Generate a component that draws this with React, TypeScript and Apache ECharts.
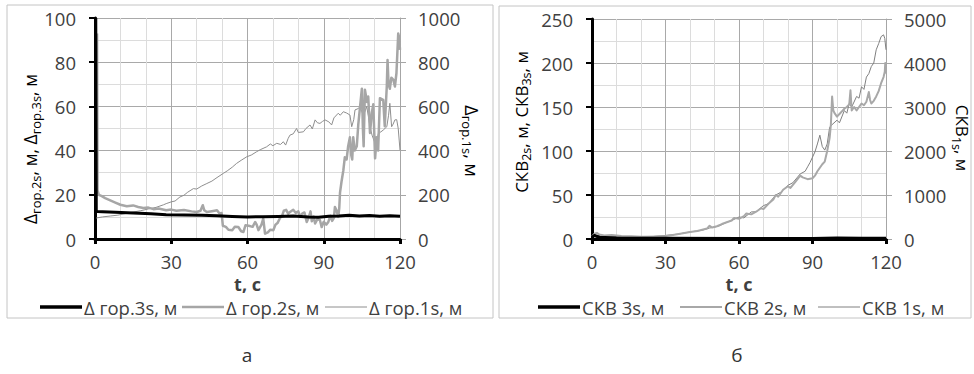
import React, { useEffect, useRef } from "react";
import * as echarts from "echarts";

// ---------- Chart а : Δ гор ----------
const a3T = [0.3, 0.5, 1, 3, 8, 15, 22, 28, 35, 42, 48, 54, 60, 66, 72, 78, 84, 88, 92, 96, 100, 104, 108, 112, 116, 120];
const a3V = [100, 12.5, 12.4, 12.3, 12.1, 11.8, 11.4, 11.0, 10.9, 10.7, 10.5, 10.2, 10.0, 10.1, 10.2, 10.4, 9.9, 9.8, 10.3, 10.4, 10.8, 10.4, 10.6, 10.3, 10.5, 10.3];

const a2T = [0.8, 1.0, 1.5, 2.5, 4, 6, 8, 10, 12.5, 15, 17, 19, 21, 23, 25, 28, 30, 32, 35, 38, 40, 41.5, 42.4, 43, 44, 46, 48, 49, 49.8, 50.3, 51.5, 52.5, 54, 55, 56.4, 57.5, 58.4, 59.2, 60.5, 62, 63, 63.6, 64.3, 65.5, 66.2, 66.9, 68, 69, 70.2, 71, 71.8, 72.8, 73.6, 74.3, 75.2, 76, 77, 78, 79, 80, 80.7, 81.5, 82.4, 83.3, 84, 84.8, 85.3, 86, 86.6, 87.5, 88.5, 89.2, 90, 91, 91.8, 92.6, 93.3, 94, 94.4, 95, 95.7, 96.1, 96.4, 97, 97.7, 98.3, 99, 99.6, 100.3, 100.8, 101.2, 101.6, 102.2, 103, 103.6, 104.3, 105, 105.4, 105.7, 106.2, 107, 107.5, 108.2, 108.9, 109.5, 110.2, 110.8, 111.4, 112.1, 113.4, 114, 114.8, 115.1, 115.5, 116, 116.6, 117.4, 118, 118.6, 119.3, 119.7, 120];
const a2V = [93, 22, 20, 19.5, 18.5, 17.5, 16.5, 15.5, 14.8, 15.2, 14.5, 14.0, 14.2, 13.5, 13.8, 13.0, 13.3, 12.8, 13.1, 12.5, 12.2, 12.8, 15.3, 13, 12.2, 12.6, 13.0, 11.5, 11.8, 6, 5.5, 4.2, 4.0, 5.5, 5.4, 3.5, 3.2, 6.2, 6.0, 5.5, 7.7, 6.5, 4.0, 6.5, 9.2, 2.4, 3.0, 4.2, 4.0, 6.5, 7.2, 9.5, 10.5, 12.8, 13.2, 11.5, 12.4, 13.2, 11.8, 12.5, 10.0, 11.5, 12.0, 7.7, 9.5, 12.5, 8.0, 10.2, 7.0, 9.0, 8.5, 5.4, 7.8, 6.5, 7.7, 10.5, 8.2, 9.6, 14.5, 13, 10.0, 14, 21, 26, 31, 37, 36, 42, 46, 38, 36, 46, 40, 42, 52, 60, 68, 50, 42, 67.5, 62, 64.5, 48, 57, 61, 36.5, 46, 40, 63.7, 63, 51, 69, 81, 70, 68, 73, 72, 69, 75, 93, 91, 85.6];

const a1T = [0.5, 3, 6, 9, 12, 15, 18, 21, 24, 27, 28, 30, 31.5, 33.4, 35, 36.5, 38.7, 40, 42, 44, 46, 48, 50.5, 52, 54, 55.7, 57.5, 59.7, 61.5, 63.6, 65, 67.5, 69, 70, 71.5, 73, 74.1, 75, 76, 76.7, 78, 79.3, 80, 82, 83, 84.6, 85.5, 86.6, 87.5, 88.5, 89.5, 90.5, 92, 93.1, 94, 95.7, 96.5, 97.7, 99, 100.3, 101, 101.8, 102.3, 103.5, 104.3, 105, 105.7, 106.9, 107.5, 108.2, 109, 110.2, 111, 111.5, 112.5, 113.4, 114.8, 115.5, 116, 116.7, 117.3, 118, 118.7, 119.3, 120];
const a1V = [95, 100, 104, 108, 115, 122, 128, 136, 143, 155, 160, 168, 172, 190, 198, 212, 228, 226, 240, 251, 262, 278, 297, 308, 325, 342, 356, 372, 380, 395, 404, 417, 430, 422, 433, 428, 440, 425, 455, 470, 476, 500, 482, 485, 500, 516, 498, 539, 526, 523, 532, 539, 530, 516, 548, 569, 560, 576, 570, 561, 508, 540, 584, 590, 599, 575, 561, 599, 560, 508, 470, 433, 450, 478, 485, 493, 508, 560, 614, 508, 520, 539, 540, 500, 402];

// ---------- Chart б : СКВ ----------
const b3T = [0, 1, 3, 10, 30, 60, 90, 100, 110, 120];
const b3V = [2, 4, 2, 1, 0.8, 0.6, 0.7, 1, 0.8, 0.8];

const b2T = [0, 1, 2, 3, 5, 8, 12, 16, 20, 25, 30, 33, 36, 40, 43, 45, 47, 48, 49, 51, 53, 55, 57, 58, 60, 62, 63, 65, 67, 69, 70, 72, 74, 75, 76, 78, 80, 81, 83, 85, 86, 88, 90, 91, 92, 94, 95, 96, 97, 97.5, 98, 98.5, 99, 100, 101, 102, 103, 104, 105, 105.5, 106, 107, 108, 109, 110, 111, 112, 113, 113.5, 114, 115, 116, 117, 118, 119, 119.5, 119.7, 120];
const b2V = [3, 6, 7, 5, 4, 4.5, 3.5, 3, 2.5, 2.5, 3.5, 4.5, 6, 8, 9, 10.5, 12, 15, 13, 14.5, 17, 19, 21, 24, 23, 26, 29, 28, 31, 35, 34, 40, 45, 50, 48, 56, 60, 58, 65, 72, 70, 68, 69, 72, 77, 85, 88, 100, 115, 130, 162, 146, 143, 139, 142, 145, 148, 150, 153, 169, 146, 150, 146, 150, 154, 152, 156, 167, 158, 154, 157, 162, 168, 177, 184, 190, 200, 188];

const b1T = [0, 2, 5, 10, 15, 20, 25, 30, 35, 40, 45, 48, 50, 52, 55, 57, 60, 62, 65, 67, 70, 72, 75, 77, 80, 82, 85, 87, 88, 89, 90, 91, 92, 93, 94, 95, 96, 97, 98, 100, 101, 103, 104, 105, 106, 108, 109, 110, 111, 112, 113, 114, 115, 116, 117, 118, 119, 119.5, 120];
const b1V = [60, 80, 60, 60, 50, 56, 60, 80, 110, 160, 200, 250, 270, 300, 380, 420, 500, 480, 614, 620, 760, 800, 1000, 1060, 1220, 1280, 1480, 1540, 1640, 1740, 1860, 1980, 2160, 2360, 2100, 2020, 2160, 2540, 2600, 2700, 2640, 2920, 2860, 3080, 3000, 3240, 3200, 3460, 3400, 3680, 3760, 3920, 4000, 4300, 4440, 4600, 4640, 4560, 4300];

const X_MIN = 0;
const X_MAX = 120;
const X_STEP = 30;
const aLeftMax = 100;
const aLeftStep = 20;
const aRightMax = 1000;
const aRightStep = 200;
const bLeftMax = 250;
const bLeftStep = 50;
const bRightMax = 5000;
const bRightStep = 1000;

const FONT = "'Open Sans', 'Noto Sans', sans-serif";
const TXT = "#404040";
const MAJOR = "#a9a9a9";
const MINOR = "#dcdcdc";
const TICK_FS = 18.5;

const zip = (t: number[], v: number[]) => t.map((x, i) => [x, v[i]]);
const plain = (v: number) => String(v);

function xAxis(gridIndex: number, nameGap: number) {
  return {
    type: "value",
    gridIndex,
    min: X_MIN,
    max: X_MAX,
    interval: X_STEP,
    name: "t, с",
    nameLocation: "middle",
    nameGap,
    nameTextStyle: { fontFamily: FONT, fontSize: 18, fontWeight: "bold", color: TXT, lineHeight: 14 },
    axisLine: { show: true, onZero: false, lineStyle: { color: "#000", width: 3 } },
    axisTick: { show: true, length: 5, lineStyle: { color: "#000", width: 3 } },
    axisLabel: { margin: 14, fontFamily: FONT, fontSize: TICK_FS, color: TXT, lineHeight: 16, formatter: plain },
    splitLine: { show: true, lineStyle: { color: MAJOR, width: 1 } },
    minorTick: { show: false, splitNumber: 3 },
    minorSplitLine: { show: true, lineStyle: { color: MINOR, width: 1 } },
  };
}

function yLeft(gridIndex: number, max: number, step: number) {
  return {
    type: "value",
    gridIndex,
    min: 0,
    max,
    interval: step,
    position: "left",
    axisLine: { show: true, lineStyle: { color: "#000", width: 3 } },
    axisTick: { show: true, length: 6, lineStyle: { color: "#000", width: 2 } },
    axisLabel: { margin: 19, fontFamily: FONT, fontSize: TICK_FS, color: TXT, formatter: plain },
    splitLine: { show: true, lineStyle: { color: MAJOR, width: 1 } },
    minorTick: { show: false, splitNumber: 2 },
    minorSplitLine: { show: true, lineStyle: { color: MINOR, width: 1 } },
  };
}

function yRight(gridIndex: number, max: number, step: number) {
  return {
    type: "value",
    gridIndex,
    min: 0,
    max,
    interval: step,
    position: "right",
    axisLine: { show: true, lineStyle: { color: "#a6a6a6", width: 1 } },
    axisTick: { show: true, length: 6, lineStyle: { color: "#a6a6a6", width: 1 } },
    axisLabel: { margin: 18, fontFamily: FONT, fontSize: TICK_FS, color: TXT, formatter: plain },
    splitLine: { show: false },
  };
}

function line(name: string, xi: number, yi: number, data: number[][], color: string, width: number, z: number) {
  return {
    type: "line",
    name,
    xAxisIndex: xi,
    yAxisIndex: yi,
    data,
    showSymbol: false,
    symbol: "none",
    z,
    lineStyle: { color, width, join: "round" },
    itemStyle: { color },
  };
}

function richFor(main: number, sub: number) {
  return {
    m: { fontFamily: FONT, fontSize: main, color: TXT, lineHeight: 18 },
    s: { fontFamily: FONT, fontSize: sub, color: TXT, lineHeight: 18, padding: [11, 0, 0, 0] },
  };
}

function vTitle(x: number, y: number, text: string, up: boolean, main: number, sub: number) {
  return {
    type: "text",
    x,
    y,
    rotation: up ? Math.PI / 2 : -Math.PI / 2,
    style: { text, rich: richFor(main, sub), align: "center", verticalAlign: "middle" },
  };
}

function legendItem(x1: number, y: number, color: string, width: number, label: string) {
  return [
    { type: "line", shape: { x1, y1: y, x2: x1 + 42, y2: y }, style: { stroke: color, lineWidth: width } },
    {
      type: "text",
      x: x1 + 44,
      y,
      style: { text: label, fontFamily: FONT, fontSize: 18.5, lineHeight: 18, fill: TXT, align: "left", verticalAlign: "middle" },
    },
  ];
}

export default function App() {
  const ref = useRef<HTMLDivElement>(null);
  useEffect(() => {
    const chart = echarts.init(ref.current!, null, { renderer: "svg" });
    const option = {
      animation: false,
      backgroundColor: "#fff",
      grid: [
        { left: 95, right: 574, top: 18, bottom: 135 },
        { left: 592, right: 88, top: 19, bottom: 135 },
      ],
      xAxis: [xAxis(0, 38), xAxis(1, 37)],
      yAxis: [
        yLeft(0, aLeftMax, aLeftStep),
        yRight(0, aRightMax, aRightStep),
        yLeft(1, bLeftMax, bLeftStep),
        yRight(1, bRightMax, bRightStep),
      ],
      series: [
        line("Δ гор.1s, м", 0, 1, zip(a1T, a1V), "#8e8e8e", 1, 3),
        line("Δ гор.2s, м", 0, 0, zip(a2T, a2V), "#a6a6a6", 2.5, 4),
        line("Δ гор.3s, м", 0, 0, zip(a3T, a3V), "#000000", 3, 5),
        line("СКВ 1s, м", 1, 3, zip(b1T, b1V), "#808080", 1, 3),
        line("СКВ 2s, м", 1, 2, zip(b2T, b2V), "#a8a8a8", 2, 4),
        line("СКВ 3s, м", 1, 2, zip(b3T, b3V), "#000000", 3, 5),
      ],
      graphic: [
        { type: "rect", shape: { x: 7, y: 5, width: 486, height: 313 }, style: { fill: "none", stroke: "#c4c4c4", lineWidth: 1 }, z: -1 },
        { type: "rect", shape: { x: 499, y: 6, width: 472, height: 312 }, style: { fill: "none", stroke: "#c4c4c4", lineWidth: 1 }, z: -1 },
        vTitle(30, 149, "{m|Δ}{s|гор.2s}{m|, м, Δ}{s|гор.3s}{m|, м}", true, 17.5, 13),
        vTitle(472, 141, "{m|Δ}{s|гор.1s}{m|, м}", false, 18, 13),
        vTitle(521, 122, "{m|СКВ}{s|2s}{m|, м, СКВ}{s|3s}{m|, м}", true, 17, 12.5),
        vTitle(962, 138, "{m|СКВ}{s|1s}{m|, м}", false, 17, 12.5),
        ...legendItem(40, 307, "#000", 3.5, "Δ гор.3s, м"),
        ...legendItem(182, 307, "#a6a6a6", 2.5, "Δ гор.2s, м"),
        ...legendItem(325, 307, "#8e8e8e", 1, "Δ гор.1s, м"),
        ...legendItem(538, 307, "#000", 3.5, "СКВ 3s, м"),
        ...legendItem(680, 307, "#a8a8a8", 2, "СКВ 2s, м"),
        ...legendItem(818, 307, "#808080", 1, "СКВ 1s, м"),
        { type: "text", x: 247, y: 355, style: { text: "а", fontFamily: FONT, fontSize: 19, fill: "#333", align: "center", verticalAlign: "middle" } },
        { type: "text", x: 737, y: 355, style: { text: "б", fontFamily: FONT, fontSize: 19, fill: "#333", align: "center", verticalAlign: "middle" } },
      ],
    };
    chart.setOption(option as any);
    return () => chart.dispose();
  }, []);
  return (
    <div
      ref={ref}
      style={{ position: "fixed", left: 0, top: 0, width: 974, height: 374, background: "#fff" }}
    />
  );
}
